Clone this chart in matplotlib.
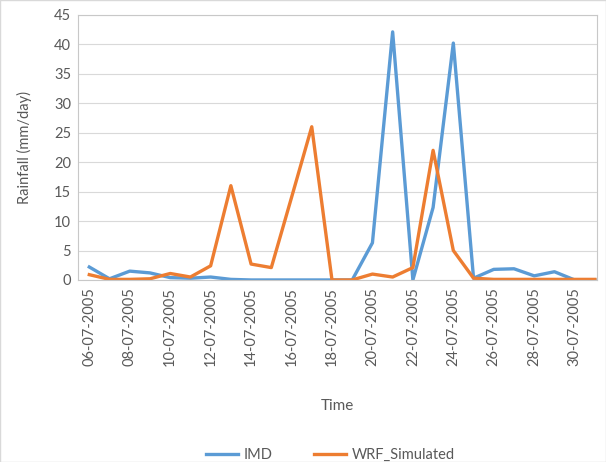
import matplotlib.pyplot as plt
import numpy as np

# ===== DATA =====
dates = ['06-07-2005', '07-07-2005', '08-07-2005', '09-07-2005', '10-07-2005',
         '11-07-2005', '12-07-2005', '13-07-2005', '14-07-2005', '15-07-2005',
         '16-07-2005', '17-07-2005', '18-07-2005', '19-07-2005', '20-07-2005',
         '21-07-2005', '22-07-2005', '23-07-2005', '24-07-2005', '25-07-2005',
         '26-07-2005', '27-07-2005', '28-07-2005', '29-07-2005', '30-07-2005',
         '31-07-2005']
imd = [2.2, 0.2, 1.5, 1.2, 0.4, 0.3, 0.5, 0.1, 0.0, 0.0,
       0.0, 0.0, 0.0, 0.0, 6.3, 42.1, 0.0, 12.3, 40.2, 0.3,
       1.8, 1.9, 0.7, 1.4, 0.0, 0.0]
wrf = [0.9, 0.1, 0.1, 0.2, 1.1, 0.5, 2.4, 16.0, 2.7, 2.1,
       14.0, 26.0, 0.0, 0.0, 1.0, 0.5, 2.1, 22.0, 5.0, 0.3,
       0.1, 0.1, 0.1, 0.1, 0.1, 0.1]

blue = '#5B9BD5'
orange = '#ED7D31'
txt = '#595959'

plt.rcParams['font.family'] = ['Lato', 'DejaVu Sans']

fig = plt.figure(figsize=(6.06, 4.62), dpi=100)
ax = fig.add_axes([0.129, 0.394, 0.856, 0.574])

x = np.arange(len(dates))
ax.plot(x, imd, color=blue, lw=2.4, label='IMD')
ax.plot(x, wrf, color=orange, lw=2.4, label='WRF_Simulated')

ax.set_ylim(0, 45)
ax.set_yticks(range(0, 46, 5))
ax.set_xlim(-0.55, 25.1)
ax.set_xticks(x[::2])
ax.set_xticklabels(dates[::2], rotation=90)
ax.tick_params(length=0, labelsize=10.5, colors=txt, pad=5)
ax.yaxis.grid(True, color='#D9D9D9', lw=0.8)
ax.set_axisbelow(True)
for s in ax.spines.values():
    s.set_color('#C8C8C8')
    s.set_linewidth(0.8)

ax.set_ylabel('Rainfall (mm/day)', fontsize=10.5, color=txt, labelpad=16)
ax.set_xlabel('Time', fontsize=11, color=txt, labelpad=24)

fig.legend(loc='lower center', bbox_to_anchor=(0.545, -0.028), ncol=2,
           frameon=False, fontsize=10.5, labelcolor=txt, handlelength=2.2,
           handletextpad=0.4, columnspacing=2.8)

fig.patches.append(plt.Rectangle((0, 0), 1, 1, transform=fig.transFigure,
                                 fill=False, edgecolor='#D9D9D9', lw=1))

fig.savefig('out.png', dpi=100)
